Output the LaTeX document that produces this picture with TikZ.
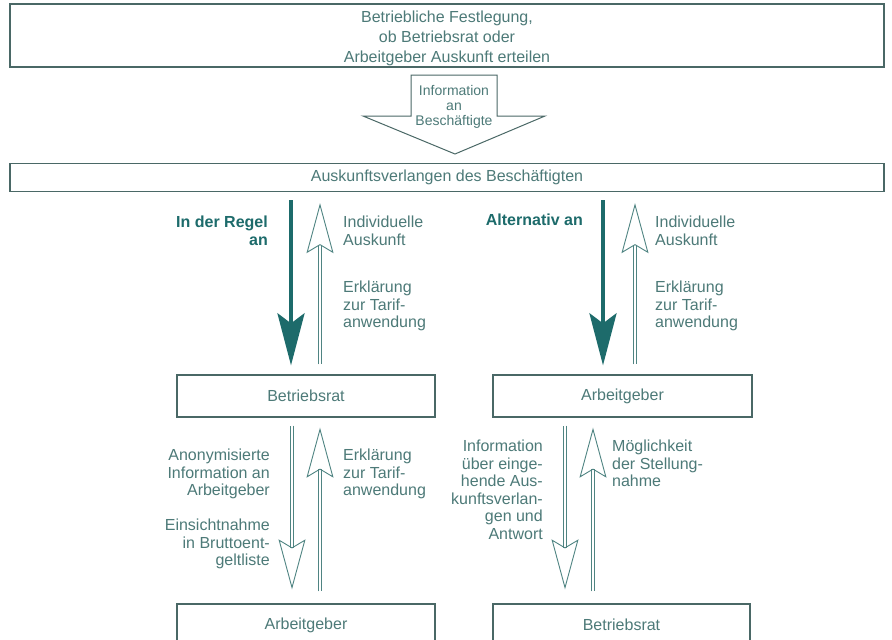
\documentclass[tikz,border=0pt]{standalone}
\usepackage{fontspec}
\setmainfont{Liberation Sans}
\usetikzlibrary{arrows.meta,calc}
\definecolor{kasten}{HTML}{4A6866}
\definecolor{schrift}{HTML}{4D7A78}
\definecolor{petrol}{HTML}{1D6B6B}
\definecolor{hell}{HTML}{4F8482}

\begin{document}
\begin{tikzpicture}[x=1pt,y=-1pt,
  box/.style={draw=kasten, line width=1.3pt, text=schrift, align=center, inner sep=0pt,
    font=\fontsize{16}{20}\selectfont},
  etikett/.style={text=schrift, inner sep=0pt, font=\fontsize{16}{17.5}\selectfont},
  fett/.style={text=petrol, inner sep=0pt, font=\fontsize{16}{17.5}\selectfont\bfseries},
  voll/.style={petrol, line width=4pt, -{Stealth[length=52pt,width=27pt,inset=10pt]}},
  hohl/.style={hell, line width=1pt, double=white, double distance=2.6pt,
    -{Stealth[open,length=50pt,width=27pt,inset=8pt,line width'=0.9pt]}}]
\useasboundingbox (0,0) rectangle (892,640);
\clip (0,0) rectangle (892,640);
\fill[white] (0,0) rectangle (892,640);

% Kaesten
\node[box, minimum width=874pt, minimum height=63pt] (fest) at (447,35.5) {};
\node[etikett, align=center, font=\fontsize{16}{20}\selectfont] (festtext) at (447,38.5)
  {Betriebliche Festlegung,\\ob Betriebsrat oder\\Arbeitgeber Auskunft erteilen};
\node[box, minimum width=874pt, minimum height=28pt] (ausk) at (447,177.5)
  {Auskunftsverlangen des Beschäftigten};
\node[box, minimum width=258pt, minimum height=42pt] (br1) at (306,396) {Betriebsrat};
\node[box, minimum width=259pt, minimum height=42pt] (ag1) at (622.5,396) {Arbeitgeber};
\node[box, minimum width=258pt, minimum height=42pt] (ag2) at (306,625) {Arbeitgeber};
\node[box, minimum width=257pt, minimum height=42pt] (br2) at (621.5,625) {Betriebsrat};

% grosser Pfeil
\draw[kasten, line width=1pt] (411,75) -- (497,75) -- (497,116) -- (545,116) -- (455,154)
  -- (363,116) -- (411,116) -- cycle;
\node[etikett, align=center, font=\fontsize{14}{15}\selectfont] (info) at (454,107)
  {Information\\an\\Beschäftigte};

% Spalten
\coordinate (ab1) at (291,0);
\coordinate (auf1) at (320,0);
\coordinate (ab2) at (603,0);
\coordinate (auf2) at (635,0);
\coordinate (ab3) at (292,0);
\coordinate (auf3) at (320,0);
\coordinate (ab4) at (565,0);
\coordinate (auf4) at (593,0);

\draw[voll] ($(ausk.south -| ab1)+(0,8)$) -- ($(br1.north -| ab1)+(0,-9)$);
\draw[hohl] ($(br1.north -| auf1)+(0,-10)$) -- ($(ausk.south -| auf1)+(0,11)$);
\draw[voll] ($(ausk.south -| ab2)+(0,8)$) -- ($(ag1.north -| ab2)+(0,-9)$);
\draw[hohl] ($(ag1.north -| auf2)+(0,-10)$) -- ($(ausk.south -| auf2)+(0,11)$);
\draw[hohl] ($(br1.south -| ab3)+(0,8)$) -- ($(ag2.north -| ab3)+(0,-14)$);
\draw[hohl] ($(ag2.north -| auf3)+(0,-12)$) -- ($(br1.south -| auf3)+(0,10)$);
\draw[hohl] ($(ag1.south -| ab4)+(0,8)$) -- ($(br2.north -| ab4)+(0,-14)$);
\draw[hohl] ($(br2.north -| auf4)+(0,-12)$) -- ($(ag1.south -| auf4)+(0,10)$);

% Beschriftungen
\node[fett, anchor=north east, align=right] (regel) at (268,216) {In der Regel\\an};
\node[etikett, anchor=north west, align=left] (indiv1) at (343,216) {Individuelle\\Auskunft};
\node[etikett, anchor=north west, align=left] (erkl1) at (343,281) {Erklärung\\zur Tarif-\\anwendung};
\node[fett, anchor=north east, align=right] (alt) at (583,214) {Alternativ an};
\node[etikett, anchor=north west, align=left] (indiv2) at (655,216) {Individuelle\\Auskunft};
\node[etikett, anchor=north west, align=left] (erkl2) at (655,281) {Erklärung\\zur Tarif-\\anwendung};
\node[etikett, anchor=north east, align=right] (anon) at (270,449)
  {Anonymisierte\\Information an\\Arbeitgeber};
\node[etikett, anchor=north east, align=right] (einsicht) at (270,519)
  {Einsichtnahme\\in Bruttoent-\\geltliste};
\node[etikett, anchor=north west, align=left] (erkl3) at (343,449) {Erklärung\\zur Tarif-\\anwendung};
\node[etikett, anchor=north east, align=right] (ueber) at (543,440)
  {Information\\über einge-\\hende Aus-\\kunftsverlan-\\gen und\\Antwort};
\node[etikett, anchor=north west, align=left] (moegl) at (612,440)
  {Möglichkeit\\der Stellung-\\nahme};
\end{tikzpicture}
\end{document}
